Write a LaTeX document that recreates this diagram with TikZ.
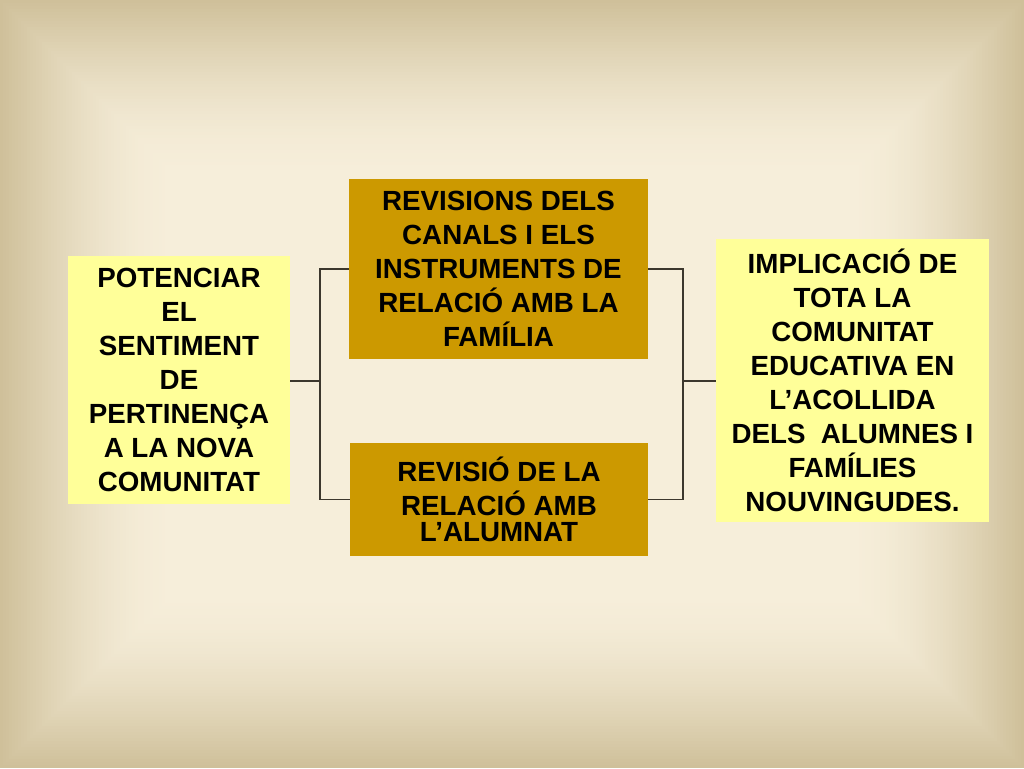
\documentclass[tikz,border=0pt]{standalone}
\usepackage{fontspec}
\setmainfont{Liberation Sans}
\definecolor{bgedge}{RGB}{207,192,154}
\definecolor{bglight}{RGB}{246,238,218}
\definecolor{boxgold}{RGB}{204,153,0}
\definecolor{boxpale}{RGB}{255,255,153}
\definecolor{linkgray}{RGB}{60,55,45}
\begin{document}
\begin{tikzpicture}[x=0.75pt, y=-0.75pt,
    box/.style={rectangle, inner sep=0pt, align=center,
      font=\fontsize{20.8}{25.5}\selectfont\bfseries},
    link/.style={draw=linkgray, line width=1pt}]
      \useasboundingbox (0,0) rectangle (1024,768);
      % Background
      \foreach \i in {0,...,60} {
        \pgfmathsetmacro{\mix}{100*sin(90*\i/60)}
        \fill[bglight!\mix!bgedge] (3*\i, 3*\i) rectangle (1024-3*\i, 768-3*\i);
      }

      % Nodes
      \node[box, fill=boxpale, minimum width=166.5pt, minimum height=186pt] at (179, 380) (potenciar) {POTENCIAR\\EL\\SENTIMENT\\DE\\PERTINENÇA\\A LA NOVA\\COMUNITAT};
      \node[box, fill=boxgold, minimum width=224.25pt, minimum height=135pt] at (498.5, 269) (canals) {REVISIONS DELS\\CANALS I ELS\\INSTRUMENTS DE\\RELACIÓ AMB LA\\FAMÍLIA};
      \node[box, fill=boxgold, minimum width=223.5pt, minimum height=84.75pt] at (499, 499.5) (alumnat) {REVISIÓ DE LA\\RELACIÓ AMB\\[-6pt]L’ALUMNAT};
      \node[box, fill=boxpale, minimum width=204.75pt, minimum height=212.25pt] at (852.5, 380.5) (implicacio) {IMPLICACIÓ DE\\TOTA LA\\COMUNITAT\\EDUCATIVA EN\\L’ACOLLIDA\\DELS\ \ ALUMNES I\\FAMÍLIES\\NOUVINGUDES.};

      \coordinate (lj) at (320, 381);
      \coordinate (rj) at (683, 381);

      \draw[link] (potenciar.east |- lj) -- (lj);
      \draw[link] (canals.west) -| (lj) |- (alumnat.west);
      \draw[link] (canals.east) -| (rj) |- (alumnat.east);
      \draw[link] (rj) -- (implicacio.west |- rj);
    \end{tikzpicture}
\end{document}
